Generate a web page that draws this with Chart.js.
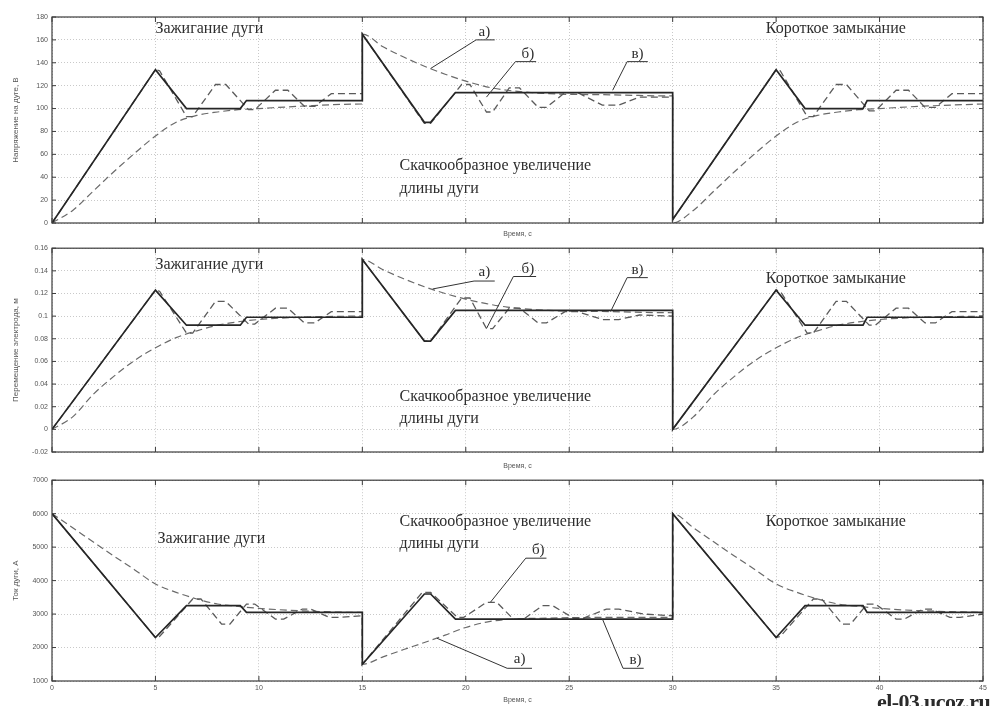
<!DOCTYPE html>
<html>
<head>
<meta charset="utf-8">
<script src="https://cdn.jsdelivr.net/npm/chart.js@4.4.1/dist/chart.umd.min.js"></script>
<style>
  html, body { margin: 0; padding: 0; background: #fff; }
  .wrap { position: relative; width: 991px; height: 706px; overflow: hidden; }
  .panel { position: absolute; left: 0; width: 991px; }
  .mark { position: absolute; left: 877px; top: 689px; font: bold 22px "Liberation Serif", serif; color: #2b2b2b; letter-spacing: -0.6px; white-space: nowrap; }
</style>
</head>
<body>
<div class="wrap">
  <div class="panel" style="top:0;height:240px"><canvas id="chartU"></canvas></div>
  <div class="panel" style="top:240px;height:232px"><canvas id="chartX"></canvas></div>
  <div class="panel" style="top:472px;height:234px"><canvas id="chartI"></canvas></div>
  <div class="mark">el-03.ucoz.ru</div>
</div>
<script>
/* three stacked panels: arc voltage, electrode travel, arc current */

// time bases, s
const T_SMOOTH = [0, 1, 2, 3, 4, 5, 6, 7, 8, 9, 10, 12, 15,
                  15, 16, 17, 18, 19, 20, 21, 22, 24, 27, 30,
                  30, 31, 32, 33, 34, 35, 36, 37, 38, 39, 40, 42, 45];
const T_OSC = [0, 5, 5.2, 6.5, 6.8, 7.9, 8.4, 9.5, 9.8, 10.8, 11.4, 12.2, 12.7, 13.5, 15,
               15, 18.0, 18.3, 19.8, 20.2, 21.0, 21.3, 22.1, 22.6, 23.5, 23.9, 24.8, 25.4, 26.6, 27.4, 28.4, 30,
               30, 35, 35.2, 36.5, 36.8, 37.9, 38.4, 39.5, 39.8, 40.8, 41.4, 42.2, 42.7, 43.5, 45];
const T_OSC_I = [0, 5, 5.2, 6.8, 7.2, 8.2, 8.6, 9.4, 9.8, 10.8, 11.2, 12.1, 12.5, 13.4, 13.9, 15,
                 15, 17.9, 18.3, 19.6, 19.9, 21.0, 21.5, 22.3, 22.8, 23.7, 24.2, 25.2, 25.7, 26.8, 27.4, 28.6, 30,
                 30, 35, 35.2, 36.8, 37.2, 38.2, 38.6, 39.4, 39.8, 40.8, 41.2, 42.1, 42.5, 43.4, 43.9, 45];
const T_RELAY = [0, 5, 6.5, 9.1, 9.4, 15, 15, 18.0, 18.3, 19.5, 30, 30, 35, 36.4, 39.2, 39.4, 45];

// arc voltage, V
const U_SMOOTH = [0, 11, 28, 45, 61, 76, 88, 94, 97, 99, 100, 102, 104,
                  165, 154, 145, 137, 130, 124, 119, 116, 113, 112, 111,
                  0, 11, 28, 45, 61, 76, 88, 94, 97, 99, 100, 102, 104];
const U_OSC = [0, 134, 133, 93, 93, 121, 121, 99, 99, 116, 116, 102, 102, 113, 113,
               165, 87, 87, 121, 121, 97, 97, 118, 118, 101, 101, 114, 114, 103, 103, 110, 110,
               3, 134, 133, 93, 93, 121, 121, 98, 98, 116, 116, 101, 101, 113, 113];
const U_RELAY = [0, 134, 100, 100, 107, 107, 165, 88, 88, 114, 114, 3, 134, 100, 100, 107, 107];
const U_TICKS = [0, 180, 20];

// electrode travel, m
const X_SMOOTH = [0, 0.011, 0.031, 0.047, 0.061, 0.072, 0.081, 0.087, 0.092, 0.095, 0.097, 0.099, 0.1,
                  0.15, 0.141, 0.133, 0.126, 0.12, 0.115, 0.111, 0.108, 0.105, 0.104, 0.103,
                  0, 0.011, 0.031, 0.047, 0.061, 0.072, 0.081, 0.087, 0.092, 0.095, 0.097, 0.099, 0.1];
const X_OSC = [0, 0.123, 0.122, 0.085, 0.085, 0.113, 0.113, 0.093, 0.093, 0.107, 0.107, 0.094, 0.094, 0.104, 0.104,
               0.15, 0.078, 0.078, 0.116, 0.116, 0.089, 0.089, 0.107, 0.107, 0.094, 0.094, 0.104, 0.104, 0.097, 0.097, 0.101, 0.1,
               0, 0.123, 0.122, 0.085, 0.085, 0.113, 0.113, 0.092, 0.092, 0.107, 0.107, 0.094, 0.094, 0.104, 0.104];
const X_RELAY = [0, 0.123, 0.092, 0.092, 0.099, 0.099, 0.15, 0.078, 0.078, 0.105, 0.105, 0, 0.123, 0.092, 0.092, 0.099, 0.099];
const X_TICKS = [-0.02, 0.16, 0.02];

// arc current, A
const I_SMOOTH = [6000, 5580, 5150, 4730, 4320, 3900, 3650, 3450, 3300, 3230, 3170, 3100, 3050,
                  1500, 1720, 1940, 2150, 2370, 2600, 2760, 2840, 2880, 2900, 2900,
                  6000, 5580, 5150, 4730, 4320, 3900, 3650, 3450, 3300, 3230, 3170, 3100, 3050];
const I_OSC = [6000, 2300, 2330, 3450, 3450, 2700, 2700, 3300, 3300, 2850, 2850, 3150, 3150, 2900, 2900, 2950,
               1500, 3650, 3650, 2900, 2900, 3350, 3350, 2850, 2850, 3250, 3250, 2880, 2880, 3150, 3150, 3000, 2950,
               6000, 2300, 2330, 3450, 3450, 2700, 2700, 3300, 3300, 2850, 2850, 3150, 3150, 2900, 2900, 3000];
const I_RELAY = [6000, 2300, 3250, 3250, 3050, 3050, 1500, 3600, 3600, 2850, 2850, 6000, 2300, 3250, 3250, 3050, 3050];
const I_TICKS = [1000, 7000, 1000];

const T_TICKS = [0, 45, 5];
const X_TITLE = 'Время, с';

const pts = (ts, vs) => ts.map((t, i) => ({ x: t, y: vs[i] }));

// captions and leader lines, in data units of each panel
const NOTES_U = {
  texts: [
    { t: 5.0, v: 170, s: 'Зажигание дуги' },
    { t: 16.8, v: 50, s: 'Скачкообразное увеличение' },
    { t: 16.8, v: 30, s: 'длины дуги' },
    { t: 34.5, v: 170, s: 'Короткое замыкание' },
  ],
  leaders: [
    { p: [[18.3, 135], [20.5, 160], [21.4, 160]], s: 'а)', at: [20.9, 167] },
    { p: [[21.0, 110], [22.4, 141], [23.4, 141]], s: 'б)', at: [23.0, 148] },
    { p: [[27.1, 116], [27.8, 141], [28.8, 141]], s: 'в)', at: [28.3, 148] },
  ],
};
const NOTES_X = {
  texts: [
    { t: 5.0, v: 0.145, s: 'Зажигание дуги' },
    { t: 16.8, v: 0.029, s: 'Скачкообразное увеличение' },
    { t: 16.8, v: 0.0095, s: 'длины дуги' },
    { t: 34.5, v: 0.133, s: 'Короткое замыкание' },
  ],
  leaders: [
    { p: [[18.4, 0.124], [20.4, 0.131], [21.4, 0.131]], s: 'а)', at: [20.9, 0.1385] },
    { p: [[21.0, 0.089], [22.3, 0.135], [23.4, 0.135]], s: 'б)', at: [23.0, 0.1415] },
    { p: [[27.0, 0.104], [27.8, 0.134], [28.8, 0.134]], s: 'в)', at: [28.3, 0.1405] },
  ],
};
const NOTES_I = {
  texts: [
    { t: 5.1, v: 5250, s: 'Зажигание дуги' },
    { t: 16.8, v: 5750, s: 'Скачкообразное увеличение' },
    { t: 16.8, v: 5110, s: 'длины дуги' },
    { t: 34.5, v: 5750, s: 'Короткое замыкание' },
  ],
  leaders: [
    { p: [[21.2, 3360], [22.9, 4670], [23.9, 4670]], s: 'б)', at: [23.5, 4900] },
    { p: [[18.6, 2280], [22.0, 1380], [23.2, 1380]], s: 'а)', at: [22.6, 1660] },
    { p: [[26.6, 2860], [27.6, 1380], [28.6, 1380]], s: 'в)', at: [28.2, 1620] },
  ],
};

const INK = '#2e2e2e';
const SERIF = '"Liberation Serif", "DejaVu Serif", serif';
Chart.defaults.font.family = '"Liberation Sans", Arial, sans-serif';

const framePlugin = {
  id: 'frame',
  afterDatasetsDraw(chart) {
    const { ctx, chartArea: a, scales } = chart;
    ctx.save();
    ctx.strokeStyle = '#3c3c3c';
    ctx.lineWidth = 1.2;
    ctx.strokeRect(a.left, a.top, a.right - a.left, a.bottom - a.top);
    ctx.lineWidth = 1;
    scales.y.ticks.forEach((tk) => {
      const py = scales.y.getPixelForValue(tk.value);
      ctx.beginPath(); ctx.moveTo(a.right, py); ctx.lineTo(a.right - 4, py); ctx.stroke();
      ctx.beginPath(); ctx.moveTo(a.left, py); ctx.lineTo(a.left + 4, py); ctx.stroke();
    });
    scales.x.ticks.forEach((tk) => {
      const px = scales.x.getPixelForValue(tk.value);
      ctx.beginPath(); ctx.moveTo(px, a.top); ctx.lineTo(px, a.top + 5); ctx.stroke();
      ctx.beginPath(); ctx.moveTo(px, a.bottom); ctx.lineTo(px, a.bottom - 5); ctx.stroke();
    });
    ctx.restore();
  },
};

const notesPlugin = {
  id: 'notes',
  afterDatasetsDraw(chart, args, opts) {
    const { ctx, scales: { x, y } } = chart;
    ctx.save();
    ctx.fillStyle = INK;
    ctx.strokeStyle = '#333';
    ctx.lineWidth = 1;
    ctx.font = '16px ' + SERIF;
    ctx.textAlign = 'left';
    ctx.textBaseline = 'middle';
    (opts.texts || []).forEach((n) => ctx.fillText(n.s, x.getPixelForValue(n.t), y.getPixelForValue(n.v)));
    ctx.font = '15px ' + SERIF;
    ctx.textAlign = 'center';
    (opts.leaders || []).forEach((l) => {
      ctx.beginPath();
      l.p.forEach(([t, v], i) => {
        const px = x.getPixelForValue(t), py = y.getPixelForValue(v);
        i ? ctx.lineTo(px, py) : ctx.moveTo(px, py);
      });
      ctx.stroke();
      ctx.fillText(l.s, x.getPixelForValue(l.at[0]), y.getPixelForValue(l.at[1]));
    });
    ctx.restore();
  },
};

function seriesSets(tSmooth, smooth, tOsc, osc, tRelay, relay) {
  return [
    { data: pts(tSmooth, smooth), borderColor: '#6a6a6a', borderWidth: 1.2, borderDash: [7, 4],
      cubicInterpolationMode: 'monotone', pointRadius: 0, order: 3 },
    { data: pts(tOsc, osc), borderColor: '#5a5a5a', borderWidth: 1.3, borderDash: [7, 4],
      tension: 0, pointRadius: 0, order: 2 },
    { data: pts(tRelay, relay), borderColor: '#262626', borderWidth: 1.7, tension: 0, pointRadius: 0, order: 1 },
  ];
}

function makePanel(id, { sets, ticks, fmt, yTitle, notes, padTop, axisH, showX }) {
  const grid = { color: '#c9c9c9', lineWidth: 1, drawTicks: false };
  return new Chart(document.getElementById(id), {
    type: 'line',
    data: { datasets: sets },
    options: {
      responsive: true,
      maintainAspectRatio: false,
      animation: false,
      layout: { padding: { top: padTop, right: 8, left: 0, bottom: 0 } },
      plugins: { legend: { display: false }, tooltip: { enabled: false }, notes },
      scales: {
        x: {
          type: 'linear', min: T_TICKS[0], max: T_TICKS[1],
          grid,
          border: { display: false, dash: [1, 2] },
          ticks: { display: showX, stepSize: T_TICKS[2], font: { size: 7 }, color: '#555', padding: 3 },
          title: { display: true, text: X_TITLE, font: { size: 7 }, color: '#555', padding: { top: 0, bottom: 2 } },
          afterFit: (s) => { s.height = axisH; },
        },
        y: {
          min: ticks[0], max: ticks[1],
          grid,
          border: { display: false, dash: [1, 2] },
          ticks: { stepSize: ticks[2], font: { size: 7 }, color: '#555', padding: 4, callback: fmt },
          title: { display: true, text: yTitle, font: { size: 8 }, color: '#555', padding: { top: 11, bottom: 0 } },
          afterFit: (s) => { s.width = 52; },
        },
      },
    },
    plugins: [framePlugin, notesPlugin],
  });
}

makePanel('chartU', {
  sets: seriesSets(T_SMOOTH, U_SMOOTH, T_OSC, U_OSC, T_RELAY, U_RELAY),
  ticks: U_TICKS, fmt: (v) => String(v), yTitle: 'Напряжение на дуге, В',
  notes: NOTES_U, padTop: 17, axisH: 17, showX: false,
});
makePanel('chartX', {
  sets: seriesSets(T_SMOOTH, X_SMOOTH, T_OSC, X_OSC, T_RELAY, X_RELAY),
  ticks: X_TICKS, fmt: (v) => String(+v.toFixed(2)), yTitle: 'Перемещение электрода, м',
  notes: NOTES_X, padTop: 6, axisH: 20, showX: false,
});
makePanel('chartI', {
  sets: seriesSets(T_SMOOTH, I_SMOOTH, T_OSC_I, I_OSC, T_RELAY, I_RELAY),
  ticks: I_TICKS, fmt: (v) => String(v), yTitle: 'Ток дуги, А',
  notes: NOTES_I, padTop: 3, axisH: 25, showX: true,
});
</script>
</body>
</html>
